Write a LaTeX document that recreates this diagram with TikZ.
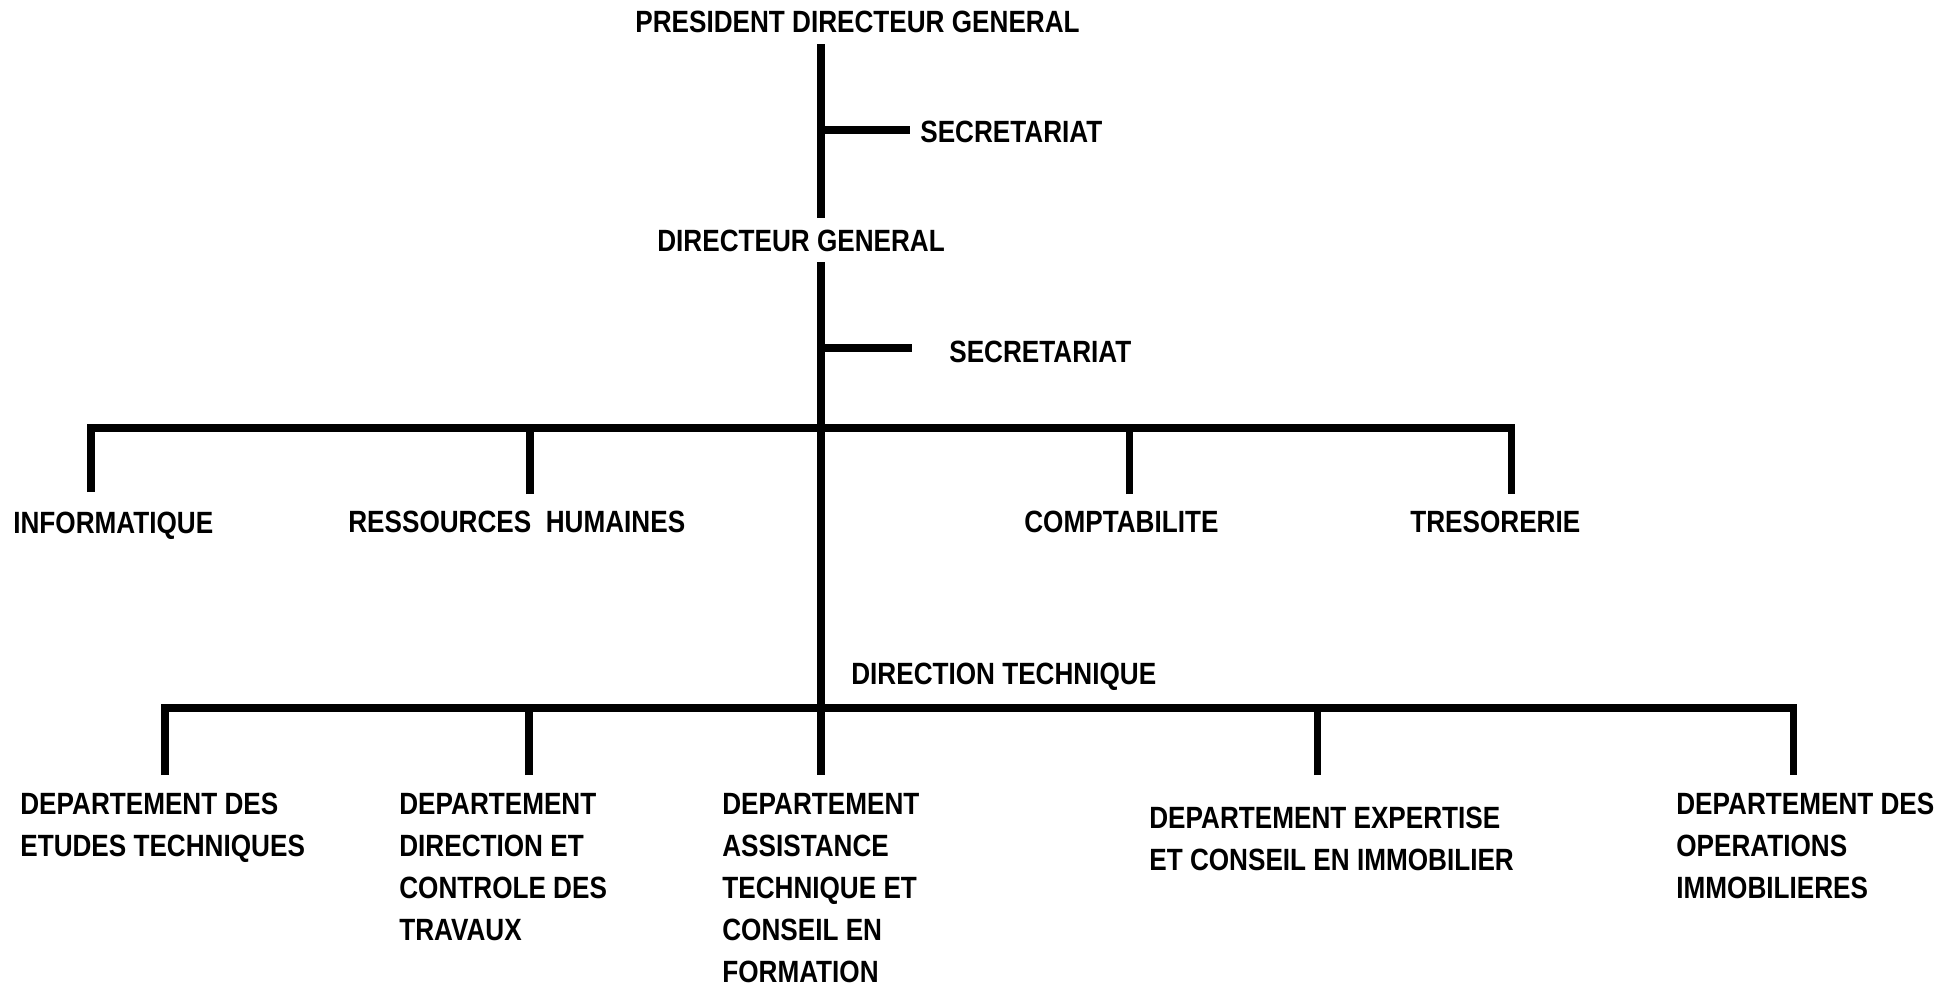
\documentclass[tikz,border=0pt]{standalone}
\usepackage{fontspec}
\newfontfamily\orgfont{Liberation Sans}[FakeStretch=0.85]
\usepackage{tikz}

\begin{document}
\begin{tikzpicture}[x=0.02cm,y=-0.02cm,org line/.style={line width=4pt},
  org node/.style={inner sep=0pt,anchor=west,font={\orgfont\fontsize{17.5}{23.9}\selectfont\bfseries}},
  dept node/.style={org node,anchor=north west,align=left}]
  \useasboundingbox (0,0) rectangle (1953,987);

  \node[org node] (pdg) at (635,22) {PRESIDENT DIRECTEUR GENERAL};
  \node[org node] (sec1) at (920,132) {SECRETARIAT};
  \node[org node] (dg) at (657,241) {DIRECTEUR GENERAL};
  \node[org node] (sec2) at (949,352) {SECRETARIAT};
  \node[org node] (info) at (13,526) {INFORMATIQUE};
  \node[org node] (rh) at (348,522) {RESSOURCES\ \ HUMAINES};
  \node[org node] (compta) at (1024,522) {COMPTABILITE};
  \node[org node] (treso) at (1410,522) {TRESORERIE};
  \node[org node] (dt) at (851,677) {DIRECTION TECHNIQUE};
  \node[dept node] (etudes) at (20,793) {DEPARTEMENT DES\\ETUDES TECHNIQUES};
  \node[dept node] (travaux) at (399,793) {DEPARTEMENT\\DIRECTION ET\\CONTROLE DES\\TRAVAUX};
  \node[dept node] (assist) at (722,793) {DEPARTEMENT\\ASSISTANCE\\TECHNIQUE ET\\CONSEIL EN\\FORMATION};
  \node[dept node] (expert) at (1149,807) {DEPARTEMENT EXPERTISE\\ET CONSEIL EN IMMOBILIER};
  \node[dept node] (operat) at (1676,793) {DEPARTEMENT DES\\OPERATIONS\\IMMOBILIERES};

  % points of the lines
  \coordinate (top) at (821,44);
  \coordinate (mid) at (821,218);
  \coordinate (sub) at (821,262);
  \coordinate (foot) at (821,775);
  \coordinate (s1) at (910,130);
  \coordinate (s2) at (912,348);
  \coordinate (h1) at (821,428);
  \coordinate (h2) at (821,708);
  \coordinate (b1) at (91,492);
  \coordinate (b2) at (530,494);
  \coordinate (b3) at (1129,494);
  \coordinate (b4) at (1511,494);
  \coordinate (c1) at (165,775);
  \coordinate (c2) at (529,775);
  \coordinate (c4) at (1317,775);
  \coordinate (c5) at (1793,775);

  \draw[org line] (top) -- (mid);
  \draw[org line] (top |- s1) -- (s1);
  \draw[org line] (sub) -- (foot);
  \draw[org line] (sub |- s2) -- (s2);
  \draw[org line] (b1) |- (h1) -| (b4);
  \draw[org line] (b2) -- (b2 |- h1);
  \draw[org line] (b3) -- (b3 |- h1);
  \draw[org line] (c1) |- (h2) -| (c5);
  \draw[org line] (c2) -- (c2 |- h2);
  \draw[org line] (c4) -- (c4 |- h2);
\end{tikzpicture}
\end{document}
